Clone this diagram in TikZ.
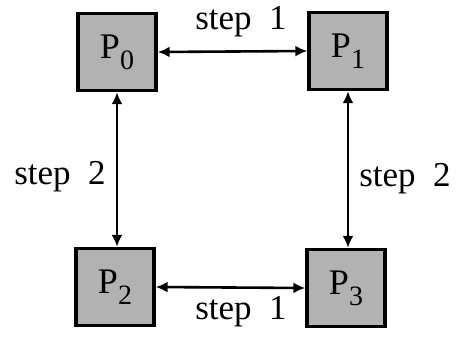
\documentclass[tikz,border=0pt]{standalone}
\usepackage{fontspec}
\setmainfont{Liberation Serif}
\usetikzlibrary{arrows.meta}
\begin{document}
\begin{tikzpicture}[x=1pt,y=-1pt,
  proc/.style={draw=black,line width=3.4pt,fill=black!30,minimum width=78pt,minimum height=77pt,inner sep=0pt,font=\fontsize{36}{38}\selectfont},
  arr/.style={line width=2.6pt,{Latex[length=12pt,width=11pt]}-{Latex[length=12pt,width=11pt]}},
  lbl/.style={font=\fontsize{35}{37}\selectfont,inner sep=0pt}]
\useasboundingbox (0,0) rectangle (462,338);
\newcommand{\procname}[1]{P\raisebox{-0.3em}{\fontsize{28}{30}\selectfont #1}}
\node[proc] (P0) at (117,52) {\procname{0}};
\node[proc] (P1) at (348,51) {\procname{1}};
\node[proc] (P2) at (115,287) {\procname{2}};
\node[proc] (P3) at (346,288) {\procname{3}};
\draw[arr] (P0.east) -- (P1.west);
\draw[arr] (P2.east) -- (P3.west);
\draw[arr] (P0.south) -- (P0.south |- P2.north);
\draw[arr] (P1.south) -- (P1.south |- P3.north);
\node[lbl] (s1a) at (241,22) {step\ \ 1};
\node[lbl] (s1b) at (241,312) {step\ \ 1};
\node[lbl] (s2a) at (60,177) {step\ \ 2};
\node[lbl] (s2b) at (405,179) {step\ \ 2};
\end{tikzpicture}
\end{document}
